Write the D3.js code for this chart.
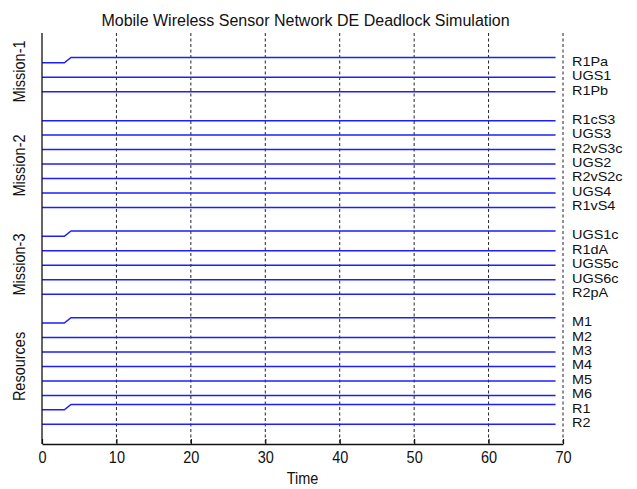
<!DOCTYPE html>
<html lang="en">
  <head>
    <meta charset="UTF-8" />
    <title>Mobile Wireless Sensor Network DE Deadlock Simulation</title>
    <style>
      body {
        margin: 0;
        background: #fff;
      }
      text {
        font-family: "Liberation Sans", Arial, sans-serif;
        fill: #111;
      }
      .tall {
        transform-box: fill-box;
        transform-origin: center;
        transform: scaleY(1.15);
      }
      .wide {
        transform-box: fill-box;
        transform-origin: left center;
        transform: scaleX(1.13);
      }
    </style>
  </head>
  <body>
    <div id="chart"></div>
    <script src="https://d3js.org/d3.v7.min.js"></script>
    <script>
      // signal names, top to bottom, and the row level each trace sits on
      const signals = ["R1Pa", "UGS1", "R1Pb", "R1cS3", "UGS3", "R2vS3c", "UGS2", "R2vS2c",
        "UGS4", "R1vS4", "UGS1c", "R1dA", "UGS5c", "UGS6c", "R2pA",
        "M1", "M2", "M3", "M4", "M5", "M6", "R1", "R2"];
      const levels = [25, 24, 23, 21, 20, 19, 18, 17, 16, 15, 13, 12, 11, 10, 9, 7, 6, 5, 4, 3, 2, 1, 0];

      // sampled time points and the state of each trace at those points
      const times = [0, 3, 3.9, 69];
      const risingState = [0, 0, 1, 1];
      const flatState = [0, 0, 0, 0];
      const risingSignals = ["R1Pa", "UGS1c", "M1", "R1"];
      const stepHeight = 0.37;

      // group labels on the y axis and where they sit
      const groups = ["Mission-1", "Mission-2", "Mission-3", "Resources"];
      const groupLevels = [24.4, 17.9, 11.05, 4.0];

      const xTicks = [0, 10, 20, 30, 40, 50, 60, 70];
      const xDomain = [0, 70];
      const yDomain = [-1.36, 27.06];

      const width = 637,
        height = 489,
        margin = { top: 33, right: 74, bottom: 45, left: 42 };

      const svg = d3
        .select("#chart")
        .append("svg")
        .attr("width", width)
        .attr("height", height);

      const x = d3.scaleLinear().domain(xDomain).range([margin.left, width - margin.right]);
      const y = d3.scaleLinear().domain(yDomain).range([height - margin.bottom, margin.top]);

      // dashed vertical grid
      svg
        .append("g")
        .selectAll("line")
        .data(xTicks.slice(1))
        .enter()
        .append("line")
        .attr("x1", (d) => x(d))
        .attr("x2", (d) => x(d))
        .attr("y1", y(yDomain[1]))
        .attr("y2", y(yDomain[0]))
        .attr("stroke", "#222")
        .attr("stroke-width", 1)
        .attr("stroke-dasharray", "3,2.5");

      // traces
      const line = d3
        .line()
        .x((d) => x(d.t))
        .y((d) => y(d.v));

      const traces = signals.map((name, i) => {
        const state = risingSignals.includes(name) ? risingState : flatState;
        return {
          name: name,
          level: levels[i],
          points: times.map((t, j) => ({ t: t, v: levels[i] + state[j] * stepHeight })),
        };
      });

      svg
        .append("g")
        .selectAll("path")
        .data(traces)
        .enter()
        .append("path")
        .attr("d", (d) => line(d.points))
        .attr("fill", "none")
        .attr("stroke", "#1e1eff")
        .attr("stroke-width", 1.5);

      // right-hand signal names (kept short enough not to collide)
      svg
        .append("g")
        .selectAll("text")
        .data(traces)
        .enter()
        .append("text")
        .attr("class", "wide")
        .attr("x", x(xDomain[1]) + 9)
        .attr("y", (d) => y(d.level) - 1.5)
        .attr("dy", "0.35em")
        .style("font-size", "12.8px")
        .text((d) => d.name);

      // bottom axis, ticks pointing up
      const xAxis = svg
        .append("g")
        .attr("transform", `translate(0,${y(yDomain[0])})`)
        .call(
          d3.axisBottom(x).tickValues(xTicks).tickSizeInner(-5).tickSizeOuter(0).tickPadding(8)
        );
      xAxis.select(".domain").attr("stroke", "#111").attr("stroke-width", 1.3);
      xAxis.selectAll(".tick line").attr("stroke", "#111").attr("stroke-width", 1.2);
      xAxis
        .selectAll(".tick text")
        .attr("class", "tall")
        .style("font-size", "14.5px")
        .style("font-family", '"Liberation Sans", Arial, sans-serif')
        .attr("fill", "#111");

      // left axis line
      svg
        .append("line")
        .attr("x1", x(xDomain[0]))
        .attr("x2", x(xDomain[0]))
        .attr("y1", y(yDomain[1]))
        .attr("y2", y(yDomain[0]))
        .attr("stroke", "#111")
        .attr("stroke-width", 1.3);

      // group labels
      svg
        .append("g")
        .selectAll("g")
        .data(groups)
        .enter()
        .append("g")
        .attr("transform", (d, i) => `translate(19,${y(groupLevels[i])}) rotate(-90)`)
        .append("text")
        .attr("class", "tall")
        .attr("text-anchor", "middle")
        .attr("dy", "0.35em")
        .style("font-size", "14.5px")
        .text((d) => d);

      // title and x label
      svg
        .append("text")
        .attr("x", (x(xDomain[0]) + x(xDomain[1])) / 2 + 3)
        .attr("y", 26)
        .attr("text-anchor", "middle")
        .style("font-size", "16px")
        .text("Mobile Wireless Sensor Network DE Deadlock Simulation");

      svg
        .append("text")
        .attr("class", "tall")
        .attr("x", (x(xDomain[0]) + x(xDomain[1])) / 2)
        .attr("y", 483)
        .attr("text-anchor", "middle")
        .style("font-size", "14.5px")
        .text("Time");
    </script>
  </body>
</html>
